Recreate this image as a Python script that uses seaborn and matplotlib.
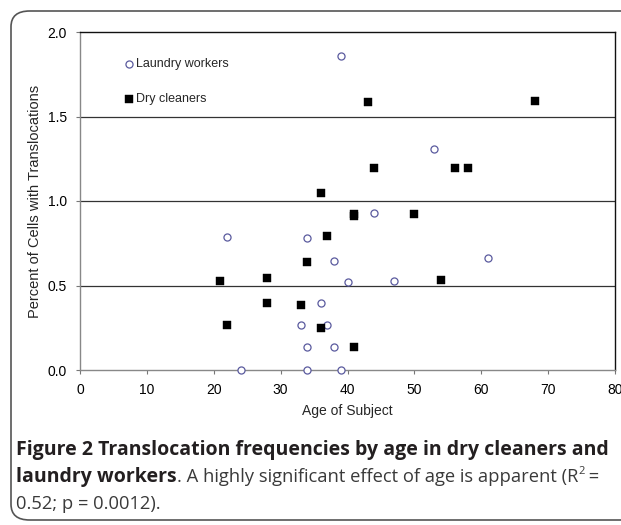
import numpy as np
import pandas as pd
import matplotlib
matplotlib.use("Agg")
import matplotlib.pyplot as plt
import seaborn as sns
from matplotlib.patches import FancyBboxPatch

# values
laundry_age = [39, 53, 44, 22, 34, 38, 61, 40, 47, 36, 33, 37, 34, 38, 24, 34, 39]
laundry_pct = [1.856, 1.310, 0.929, 0.787, 0.780, 0.646, 0.665, 0.522, 0.524,
               0.396, 0.264, 0.264, 0.134, 0.134, 0.0, 0.0, 0.0]

dry_age = [43, 68, 44, 56, 58, 36, 41, 41, 50, 37, 34, 21, 28, 54, 28, 33, 22, 36, 41]
dry_pct = [1.585, 1.593, 1.198, 1.198, 1.198, 1.049, 0.921, 0.911, 0.923, 0.793,
           0.642, 0.524, 0.543, 0.530, 0.394, 0.386, 0.266, 0.248, 0.134]

x_ticks = [0, 10, 20, 30, 40, 50, 60, 70, 80]
y_ticks = [0.0, 0.5, 1.0, 1.5, 2.0]

sns.set_style("white")
plt.rcParams["font.family"] = ["Liberation Sans", "DejaVu Sans"]

W, H = 621, 525
fig = plt.figure(figsize=(W / 100, H / 100), dpi=100)

# rounded frame around figure and caption
fig.patches.append(FancyBboxPatch((11 / W, 5 / H), 640 / W, 509 / H,
                                  boxstyle="round,pad=0,rounding_size=0.03",
                                  transform=fig.transFigure, fill=False,
                                  edgecolor="#555555", linewidth=1.2))

ax = fig.add_axes([80 / W, 1 - 370 / H, 535 / W, 338 / H])

df_l = pd.DataFrame({"age": laundry_age, "pct": laundry_pct})
df_d = pd.DataFrame({"age": dry_age, "pct": dry_pct})

for y in [0.5, 1.0, 1.5]:
    ax.axhline(y, color="#333333", linewidth=0.9, zorder=1)

sns.scatterplot(data=df_l, x="age", y="pct", ax=ax, marker="o", s=26,
                facecolor="white", edgecolor="#5a5a9e", linewidth=0.9,
                label="Laundry workers", zorder=3, clip_on=False)
sns.scatterplot(data=df_d, x="age", y="pct", ax=ax, marker="s", s=30,
                color="black", edgecolor="black", linewidth=0.3,
                label="Dry cleaners", zorder=3, clip_on=False)

ax.set_xlim(0, 80)
ax.set_ylim(0, 2.0)
ax.set_xticks(x_ticks)
ax.set_yticks(y_ticks)
ax.set_yticklabels([f"{v:.1f}" for v in y_ticks])
ax.tick_params(axis="both", labelsize=10, colors="#777777", labelcolor="black",
               direction="out", length=3, width=0.8, pad=6.5)
ax.xaxis.set_ticks_position("bottom")
ax.yaxis.set_ticks_position("left")

for side in ["left", "bottom"]:
    ax.spines[side].set_color("#888888")
    ax.spines[side].set_linewidth(1.0)
for side in ["top", "right"]:
    ax.spines[side].set_color("#111111")
    ax.spines[side].set_linewidth(1.0)

ax.set_xlabel("Age of Subject", fontsize=10, labelpad=5)
ax.set_ylabel("Percent of Cells with Translocations", fontsize=10.5, labelpad=4)

ax.legend(loc="upper left", bbox_to_anchor=(0.069, 0.937), frameon=False,
          fontsize=9, handletextpad=-0.05, labelspacing=1.8, borderaxespad=0,
          handlelength=1.2)

# caption
cap_color = "#231f20"
txt_color = "#3a3a3a"
fs = 14
fs_reg = 13.2
fig.text(16 / W, 1 - 455 / H, "Figure 2 Translocation frequencies by age in dry cleaners and",
         fontsize=fs, fontweight="bold", family="Open Sans", color=cap_color)

fig.canvas.draw()
renderer = fig.canvas.get_renderer()
x0 = 16 / W
y2 = 1 - 482 / H
t1 = fig.text(x0, y2, "laundry workers", fontsize=fs, fontweight="bold",
              family="Open Sans", color=cap_color)
w1 = t1.get_window_extent(renderer).width / W
t2 = fig.text(x0 + w1, y2, ". A highly significant effect of age is apparent (R",
              fontsize=fs_reg, family="Open Sans", color=txt_color)
w2 = t2.get_window_extent(renderer).width / W
t3 = fig.text(x0 + w1 + w2, y2 + 8 / H, "2", fontsize=8, family="Open Sans",
              color=txt_color)
w3 = t3.get_window_extent(renderer).width / W
fig.text(x0 + w1 + w2 + w3, y2, " =", fontsize=fs_reg, family="Open Sans",
         color=txt_color)
fig.text(x0, 1 - 509 / H, "0.52; p = 0.0012).", fontsize=fs_reg, family="Open Sans",
         color=txt_color)

fig.savefig("out.png", dpi=100)
